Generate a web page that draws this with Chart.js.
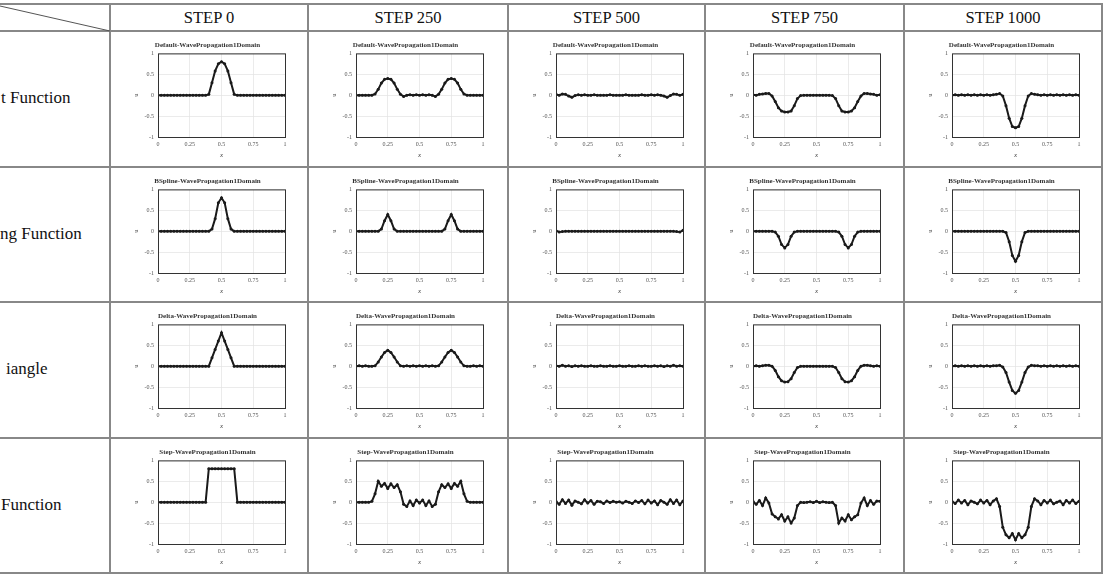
<!DOCTYPE html>
<html>
<head>
<meta charset="utf-8">
<script src="https://cdn.jsdelivr.net/npm/chart.js@4"></script>
<style>
  body { margin: 0; background: #fff; }
  #page { position: relative; width: 1103px; height: 576px; overflow: hidden; font-family: "Liberation Serif", serif; color: #111; }
  .hl, .vl { position: absolute; background: #888; }
  .head { position: absolute; top: 4px; height: 27px; line-height: 27px; text-align: center; font-size: 16.5px; }
  .rowlab { position: absolute; font-size: 17px; white-space: nowrap; }
  canvas { position: absolute; }
</style>
</head>
<body>
<div id="page"></div>
<script>
// column titles and row labels (left column is cropped in the original)
const stepLabels = ["STEP 0", "STEP 250", "STEP 500", "STEP 750", "STEP 1000"];
const rowLabels = ["t Function", "ng Function", "iangle", "Function"];
const titleNames = ["Default", "BSpline", "Delta", "Step"];

const xTicks = [0, 0.25, 0.5, 0.75, 1];
const yTicks = [-1, -0.5, 0, 0.5, 1];

const xs = [0, 0.025, 0.05, 0.075, 0.1, 0.125, 0.15, 0.175, 0.2, 0.225,
            0.25, 0.275, 0.3, 0.325, 0.35, 0.375, 0.4, 0.425, 0.45, 0.475,
            0.5, 0.525, 0.55, 0.575, 0.6, 0.625, 0.65, 0.675, 0.7, 0.725,
            0.75, 0.775, 0.8, 0.825, 0.85, 0.875, 0.9, 0.925, 0.95, 0.975, 1];

// u values at xs, one array per step (0, 250, 500, 750, 1000)
const defaultFn = [
  [0,0,0,0,0,0,0,0,0,0, 0,0,0,0,0,0,0.02,0.3,0.58,0.75, 0.8,0.75,0.58,0.3,0.02,0,0,0,0,0, 0,0,0,0,0,0,0,0,0,0, 0],
  [0,0,0,0,0,0,0.03,0.14,0.29,0.38, 0.4,0.38,0.29,0.14,0.02,-0.03,0,0.01,0,0.01, 0,0.01,0,0.01,0,-0.03,0.02,0.14,0.29,0.38, 0.4,0.38,0.29,0.14,0.03,0,0,0,0,0, 0],
  [0.02,0,0.03,0.02,-0.02,-0.05,-0.01,0.01,0,0.01, 0,0,0.01,0,0,0,0,0.01,0,0, 0,0,0.01,0,0,0,0,0.01,0,0, 0.01,0,0.01,0,-0.02,-0.05,-0.01,0.03,0.02,0, 0.02],
  [0.01,0,0.02,0.03,0.04,0.04,-0.02,-0.15,-0.3,-0.38, -0.4,-0.4,-0.38,-0.25,-0.08,-0.01,0,0,0,0, 0,0,0,0,0,-0.01,-0.08,-0.25,-0.38,-0.4, -0.4,-0.38,-0.3,-0.15,-0.02,0.04,0.04,0.03,0.02,0, 0.01],
  [0,0.01,0,0.01,0,0.01,0,0.01,0,0.01, 0,0.01,0,0.01,0.02,0.04,-0.02,-0.25,-0.55,-0.75, -0.78,-0.75,-0.55,-0.25,-0.02,0.04,0.02,0.01,0,0.01, 0,0.01,0,0.01,0,0.01,0,0.01,0,0.01, 0]
];

const bspline = [
  [0,0,0,0,0,0,0,0,0,0, 0,0,0,0,0,0,0,0.05,0.3,0.68, 0.8,0.68,0.3,0.05,0,0,0,0,0,0, 0,0,0,0,0,0,0,0,0,0, 0],
  [0,0,0,0,0,0,0,0,0.05,0.25, 0.4,0.25,0.05,0,0,0,0,0,0,0, 0,0,0,0,0,0,0,0,0.05,0.25, 0.4,0.25,0.05,0,0,0,0,0,0,0, 0],
  [0.01,-0.02,-0.01,0,0,0,0,0,0,0, 0,0,0,0,0,0,0,0,0,0, 0,0,0,0,0,0,0,0,0,0, 0,0,0,0,0,0,0,0,-0.01,-0.02, 0.02],
  [0,0,0,0,0,0,0,-0.02,-0.12,-0.32, -0.4,-0.32,-0.12,-0.02,0,0,0,0,0,0, 0,0,0,0,0,0,0,-0.02,-0.12,-0.32, -0.4,-0.32,-0.12,-0.02,0,0,0,0,0,0, 0],
  [0,0,0,0,0,0,0,0,0,0, 0,0,0,0,0,0,0,-0.03,-0.25,-0.58, -0.72,-0.58,-0.25,-0.03,0,0,0,0,0,0, 0,0,0,0,0,0,0,0,0,0, 0]
];

const delta = [
  [0,0,0,0,0,0,0,0,0,0, 0,0,0,0,0,0,0,0.2,0.4,0.6, 0.8,0.6,0.4,0.2,0,0,0,0,0,0, 0,0,0,0,0,0,0,0,0,0, 0],
  [0,0.01,0,0.01,0,0,0.01,0.1,0.22,0.33, 0.38,0.33,0.22,0.1,0.01,0,0.01,0,0.01,0, 0.01,0,0.01,0,0.01,0,0.01,0.1,0.22,0.33, 0.38,0.33,0.22,0.1,0.01,0,0,0.01,0,0.01, 0],
  [0.01,0,0.02,0,0.01,-0.01,0.01,0,0.01,0, 0,0.01,0,0,0.01,0,0,0.01,0,0, 0.01,0,0,0.01,0,0,0.01,0,0.01,0, 0,0.01,0,0.01,-0.01,0.01,0,0.02,0,0.01, 0],
  [0,0.01,0,0.01,0.02,0.02,0,-0.1,-0.25,-0.35, -0.38,-0.37,-0.3,-0.15,-0.03,0,0,0,0,0, 0,0,0,0,0,0,-0.03,-0.15,-0.3,-0.37, -0.38,-0.35,-0.25,-0.1,0,0.02,0.02,0.01,0,0.01, 0],
  [0,0.01,0,0.01,0,0.01,0,0.01,0,0.01, 0,0.01,0,0.01,0.01,0.02,-0.02,-0.15,-0.38,-0.58, -0.65,-0.58,-0.38,-0.15,-0.02,0.02,0.01,0.01,0,0.01, 0,0.01,0,0.01,0,0.01,0,0.01,0,0.01, 0]
];

const stepFn = [
  [0,0,0,0,0,0,0,0,0,0, 0,0,0,0,0,0,0.8,0.8,0.8,0.8, 0.8,0.8,0.8,0.8,0.8,0,0,0,0,0, 0,0,0,0,0,0,0,0,0,0, 0],
  [0,0,0,0,0,0.02,0.2,0.5,0.38,0.45, 0.33,0.44,0.35,0.42,0.25,-0.05,-0.1,0.03,-0.08,0.05, -0.02,0.05,-0.08,0.03,-0.1,-0.05,0.25,0.42,0.35,0.44, 0.33,0.45,0.38,0.5,0.2,0.02,0,0,0,0, 0],
  [0.02,-0.05,0.06,-0.03,0.05,-0.07,0.03,0,-0.04,0.06, -0.02,0.04,-0.05,0.02,0.01,-0.03,0.03,-0.01,0.02,0, 0.01,-0.02,0.02,0,-0.03,0.03,-0.01,0.04,-0.04,0.05, -0.02,0.03,-0.06,0.04,0,-0.05,0.06,-0.03,0.05,-0.06, 0.03],
  [0.02,-0.05,0.04,-0.08,0.1,-0.02,-0.28,-0.35,-0.4,-0.3, -0.45,-0.35,-0.5,-0.38,-0.08,0,-0.01,0,0.01,-0.01, 0.02,-0.01,0.01,0,-0.01,0,-0.08,-0.5,-0.38,-0.45, -0.3,-0.42,-0.35,-0.3,-0.02,0.1,-0.08,0.04,-0.05,0.03, 0.02],
  [0.02,-0.03,0.05,-0.02,0.04,-0.06,0.03,0,-0.04,0.05, -0.02,0.04,-0.06,0.03,0.08,-0.1,-0.6,-0.78,-0.85,-0.75, -0.9,-0.75,-0.85,-0.78,-0.6,-0.1,0.08,0.03,-0.06,0.04, -0.02,0.05,-0.04,0,0.03,-0.06,0.04,-0.02,0.05,-0.03, 0.02]
];

const rowsData = [defaultFn, bspline, delta, stepFn];

// table geometry
const colEdges = [110, 308, 508, 705, 904, 1102];
const rowEdges = [31, 167, 302, 438, 573];

const page = document.getElementById("page");

function addDiv(cls, style, text) {
    const d = document.createElement("div");
    d.className = cls;
    Object.assign(d.style, style);
    if (text) d.textContent = text;
    page.appendChild(d);
    return d;
}

// grid lines
[4].concat(rowEdges).forEach(y => addDiv("hl", { left: "0px", top: (y - 1) + "px", width: "1103px", height: "2px" }));
colEdges.forEach(x => addDiv("vl", { left: (x - 1) + "px", top: "3px", width: "2px", height: "571px" }));

// diagonal in the corner cell
page.insertAdjacentHTML("beforeend",
    '<svg width="112" height="34" style="position:absolute;left:0;top:0">' +
    '<line x1="0" y1="6" x2="110" y2="31" stroke="#555" stroke-width="1"/></svg>');

stepLabels.forEach((s, c) => {
    addDiv("head", { left: colEdges[c] + "px", width: (colEdges[c + 1] - colEdges[c]) + "px" }, s);
});

const labelLeft = [1, 0, 6, 1];
rowLabels.forEach((s, r) => {
    const mid = (rowEdges[r] + rowEdges[r + 1]) / 2;
    addDiv("rowlab", { left: labelLeft[r] + "px", top: (mid - 11) + "px" }, s);
});

Chart.defaults.font.family = "'Liberation Serif', serif";

const frame = {
    id: "frame",
    afterDraw(chart) {
        const { ctx, chartArea: a } = chart;
        ctx.save();
        ctx.strokeStyle = "#333";
        ctx.lineWidth = 1;
        ctx.strokeRect(a.left + 0.5, a.top + 0.5, a.right - a.left, a.bottom - a.top);
        ctx.restore();
    }
};

const plainTick = (v) => String(v);

function miniChart(r, c) {
    const cv = document.createElement("canvas");
    cv.width = 170;
    cv.height = 128;
    cv.style.left = (colEdges[c] + 20) + "px";
    cv.style.top = (rowEdges[r] + 6) + "px";
    page.appendChild(cv);

    const vals = rowsData[r][c];
    const pts = xs.map((x, i) => ({ x, y: vals[i] }));

    new Chart(cv, {
        type: "scatter",
        data: {
            datasets: [
                {
                    data: pts,
                    showLine: true,
                    borderColor: "#1a1a1a",
                    borderWidth: 2,
                    pointRadius: 1.5,
                    pointBackgroundColor: "#1a1a1a",
                    pointBorderWidth: 0,
                },
            ],
        },
        options: {
            responsive: false,
            animation: false,
            devicePixelRatio: 1,
            layout: { padding: { left: 0, right: 15, top: 2, bottom: 0 } },
            plugins: {
                legend: { display: false },
                tooltip: { enabled: false },
                title: {
                    display: true,
                    text: titleNames[r] + "-WavePropagation1Domain",
                    color: "#333",
                    font: { size: 7, weight: "bold", lineHeight: 1.2 },
                    padding: { top: 2, bottom: 4 },
                },
            },
            scales: {
                x: {
                    type: "linear",
                    min: 0,
                    max: 1,
                    afterBuildTicks: (s) => { s.ticks = xTicks.map(v => ({ value: v })); },
                    afterFit: (s) => { s.height = 28; },
                    grid: { color: "#e2e2e2", lineWidth: 0.7, drawTicks: false },
                    border: { display: false },
                    ticks: { font: { size: 6 }, color: "#555", padding: 4, maxRotation: 0, callback: plainTick },
                    title: { display: true, text: "x", font: { size: 7, style: "italic" }, color: "#444", padding: { top: 0, bottom: 6 } },
                },
                y: {
                    min: -1,
                    max: 1,
                    afterBuildTicks: (s) => { s.ticks = yTicks.map(v => ({ value: v })); },
                    afterFit: (s) => { s.width = 28; },
                    grid: { color: "#e2e2e2", lineWidth: 0.7, drawTicks: false },
                    border: { display: false },
                    ticks: { font: { size: 6 }, color: "#555", padding: 4, callback: plainTick },
                    title: { display: true, text: "u", font: { size: 6 }, color: "#444", padding: { top: 3, bottom: 0 } },
                },
            },
        },
        plugins: [frame],
    });
}

for (let r = 0; r < 4; r++) {
    for (let c = 0; c < 5; c++) {
        miniChart(r, c);
    }
}
</script>
</body>
</html>
